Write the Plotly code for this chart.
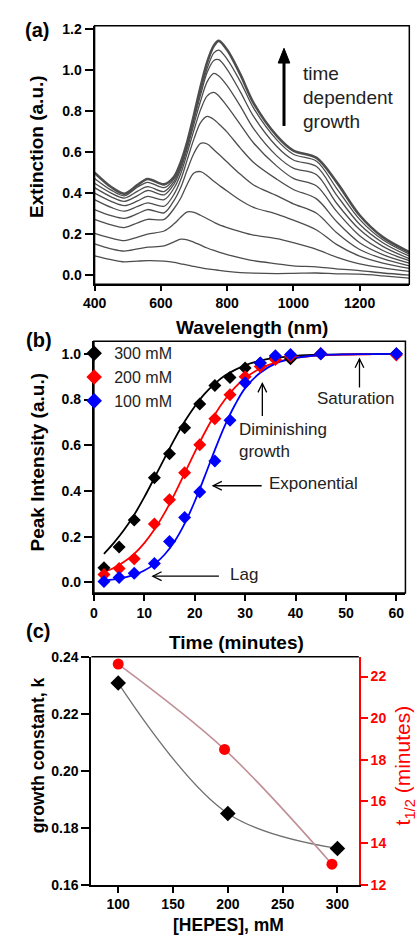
import plotly.graph_objects as go

W, H = 420, 945
def PX(px): return px / W
def PY(py): return 1 - py / H

FONT = "Liberation Sans, Arial, sans-serif"

# ---------------- Panel (a): extinction spectra ----------------
wavelength_nm = [400, 450, 490, 530, 560, 610, 640, 660, 680, 700, 720, 740, 760, 775,
                 800, 840, 880, 950, 1000, 1070, 1130, 1200, 1270, 1350]
ext_t01 = [0.094, 0.075, 0.064, 0.068, 0.070, 0.068, 0.062, 0.055, 0.048, 0.042, 0.036, 0.030,
           0.026, 0.023, 0.018, 0.012, 0.009, 0.007, 0.008, 0.010, 0.006, 0.004, -0.004, -0.015]
ext_t02 = [0.152, 0.128, 0.117, 0.128, 0.136, 0.142, 0.162, 0.175, 0.172, 0.160, 0.146, 0.132,
           0.120, 0.112, 0.100, 0.084, 0.070, 0.055, 0.045, 0.040, 0.030, 0.022, 0.010, 0.0]
ext_t03 = [0.203, 0.180, 0.168, 0.185, 0.200, 0.215, 0.250, 0.282, 0.308, 0.306, 0.292, 0.275,
           0.258, 0.246, 0.232, 0.212, 0.195, 0.178, 0.158, 0.125, 0.088, 0.055, 0.035, 0.018]
ext_t04 = [0.272, 0.245, 0.232, 0.255, 0.272, 0.272, 0.325, 0.375, 0.445, 0.498, 0.505, 0.485,
           0.458, 0.440, 0.410, 0.365, 0.330, 0.298, 0.268, 0.220, 0.150, 0.092, 0.058, 0.032]
ext_t05 = [0.320, 0.290, 0.277, 0.300, 0.320, 0.304, 0.365, 0.428, 0.515, 0.595, 0.643, 0.640,
           0.612, 0.590, 0.552, 0.492, 0.440, 0.388, 0.348, 0.302, 0.208, 0.125, 0.080, 0.045]
ext_t06 = [0.368, 0.330, 0.312, 0.335, 0.352, 0.336, 0.395, 0.465, 0.565, 0.665, 0.745, 0.775,
           0.760, 0.738, 0.698, 0.620, 0.550, 0.468, 0.418, 0.372, 0.262, 0.158, 0.100, 0.058]
ext_t07 = [0.400, 0.360, 0.339, 0.362, 0.384, 0.368, 0.425, 0.495, 0.598, 0.708, 0.808, 0.875,
           0.892, 0.875, 0.825, 0.735, 0.645, 0.532, 0.472, 0.435, 0.312, 0.192, 0.120, 0.070]
ext_t08 = [0.427, 0.382, 0.360, 0.388, 0.413, 0.392, 0.445, 0.515, 0.620, 0.738, 0.850, 0.945,
           0.985, 0.972, 0.925, 0.825, 0.715, 0.582, 0.522, 0.490, 0.352, 0.222, 0.140, 0.080]
ext_t09 = [0.448, 0.400, 0.376, 0.410, 0.432, 0.408, 0.458, 0.528, 0.632, 0.758, 0.880, 0.990,
           1.048, 1.052, 1.005, 0.895, 0.775, 0.628, 0.562, 0.530, 0.392, 0.248, 0.158, 0.092]
ext_t10 = [0.472, 0.415, 0.387, 0.430, 0.453, 0.427, 0.470, 0.540, 0.642, 0.770, 0.900, 1.010,
           1.085, 1.099, 1.055, 0.945, 0.815, 0.660, 0.590, 0.556, 0.425, 0.272, 0.172, 0.102]
ext_t11 = [0.500, 0.430, 0.397, 0.440, 0.469, 0.443, 0.480, 0.550, 0.652, 0.782, 0.920, 1.040,
           1.120, 1.144, 1.100, 0.980, 0.840, 0.680, 0.608, 0.572, 0.455, 0.292, 0.185, 0.112]
spectra = [ext_t01, ext_t02, ext_t03, ext_t04, ext_t05, ext_t06,
           ext_t07, ext_t08, ext_t09, ext_t10, ext_t11]

# ---------------- Panel (b): peak intensity vs time ----------------
time_min = [2, 5, 8, 12, 15, 18, 21, 24, 27, 30, 33, 36, 39, 45, 60]
peak_300mM = [0.064, 0.155, 0.273, 0.458, 0.563, 0.677, 0.780, 0.861, 0.897, 0.938, 0.960, 0.985, 0.978, 1.0, 1.0]
peak_200mM = [0.035, 0.061, 0.104, 0.255, 0.362, 0.480, 0.602, 0.716, 0.821, 0.900, 0.945, 0.975, 0.990, 1.0, 0.995]
peak_100mM = [0.004, 0.021, 0.040, 0.083, 0.179, 0.284, 0.395, 0.531, 0.709, 0.874, 0.960, 0.992, 0.997, 1.0, 1.0]

fit_time = [2, 4, 6, 8, 10, 12, 14, 16, 18, 20, 22, 24, 26, 28, 30, 33, 36, 40, 45, 50, 55, 60]
fit_300mM = [0.125, 0.174, 0.230, 0.296, 0.373, 0.457, 0.543, 0.627, 0.704, 0.770, 0.826, 0.870,
             0.905, 0.930, 0.950, 0.970, 0.982, 0.991, 0.996, 0.998, 0.999, 1.0]
fit_200mM = [0.045, 0.064, 0.090, 0.125, 0.172, 0.231, 0.303, 0.386, 0.477, 0.569, 0.656, 0.735,
             0.800, 0.853, 0.894, 0.936, 0.962, 0.982, 0.993, 0.997, 0.998, None]
fit_100mM = [0.008, 0.013, 0.021, 0.033, 0.052, 0.080, 0.121, 0.179, 0.257, 0.354, 0.465, 0.580,
             0.687, 0.777, 0.850, 0.917, 0.957, 0.982, 0.994, 0.998, 0.999, 1.0]

# ---------------- Panel (c): k and t1/2 vs HEPES ----------------
hepes_k = [100, 200, 300]
growth_k = [0.2308, 0.185, 0.1727]
hepes_t = [100, 197, 295]
t_half = [22.6, 18.5, 12.98]

fig = go.Figure()

# Panel (a)
for i, ys in enumerate(spectra):
    top = i == len(spectra) - 1
    fig.add_trace(go.Scatter(
        x=wavelength_nm, y=ys, mode="lines", line_shape="spline",
        line=dict(color="#4d4d4d", width=2.6 if top else 1.3, smoothing=0.9),
        xaxis="x", yaxis="y", showlegend=False, hoverinfo="skip"))

# Panel (b)
series_b = [("300 mM", "black", peak_300mM, fit_300mM),
            ("200 mM", "#ff0000", peak_200mM, fit_200mM),
            ("100 mM", "#0000ff", peak_100mM, fit_100mM)]
for name, col, pts, fit in series_b:
    fig.add_trace(go.Scatter(
        x=fit_time, y=fit, mode="lines", line_shape="spline",
        line=dict(color=col, width=1.8), xaxis="x2", yaxis="y2",
        showlegend=False, hoverinfo="skip"))
for name, col, pts, fit in series_b:
    fig.add_trace(go.Scatter(
        x=time_min, y=pts, mode="markers", name=name,
        marker=dict(symbol="diamond", size=10, color=col),
        xaxis="x2", yaxis="y2", showlegend=True))

# Panel (c)
fig.add_trace(go.Scatter(
    x=hepes_k, y=growth_k, mode="lines", line_shape="spline",
    line=dict(color="#707070", width=1.3), xaxis="x3", yaxis="y3",
    showlegend=False))
fig.add_trace(go.Scatter(
    x=hepes_t, y=t_half, mode="lines", line_shape="spline",
    line=dict(color="#c09098", width=1.6), xaxis="x3", yaxis="y4",
    showlegend=False))
fig.add_trace(go.Scatter(
    x=hepes_k, y=growth_k, mode="markers",
    marker=dict(symbol="diamond", size=12, color="black"),
    xaxis="x3", yaxis="y3", showlegend=False))
fig.add_trace(go.Scatter(
    x=hepes_t, y=t_half, mode="markers",
    marker=dict(symbol="circle", size=11, color="#ff0000"),
    xaxis="x3", yaxis="y4", showlegend=False))

tickfont = dict(family=FONT, size=14, color="black", weight="bold")
axis_common = dict(showgrid=False, zeroline=False, showline=True, linecolor="black",
                   linewidth=2, ticks="outside", tickcolor="black", tickwidth=1.5,
                   tickfont=tickfont, mirror=False)

fig.update_layout(
    width=W, height=H, margin=dict(l=0, r=0, t=0, b=0),
    paper_bgcolor="white", plot_bgcolor="white",
    font=dict(family=FONT, color="black"),
    showlegend=True,
    legend=dict(x=PX(64), y=PY(334), xanchor="left", yanchor="top",
                bgcolor="rgba(0,0,0,0)", font=dict(family=FONT, size=16, color="#222222"),
                itemsizing="constant", tracegroupgap=0),
    xaxis=dict(axis_common, domain=[PX(85), PX(409)], range=[400, 1350],
               tickvals=[400, 600, 800, 1000, 1200], ticklen=5, anchor="y"),
    yaxis=dict(axis_common, domain=[PY(281), PY(18)], range=[-0.045, 1.218],
               tickvals=[0, 0.2, 0.4, 0.6, 0.8, 1.0, 1.2], tickformat=".1f",
               ticklen=8, anchor="x"),
    xaxis2=dict(axis_common, domain=[PX(84.3), PX(405)], range=[0, 61.8],
                tickvals=[0, 10, 20, 30, 40, 50, 60], ticklen=6, anchor="y2"),
    yaxis2=dict(axis_common, domain=[PY(595), PY(339)], range=[-0.046, 1.055],
                tickvals=[0, 0.2, 0.4, 0.6, 0.8, 1.0], tickformat=".1f",
                ticklen=8, anchor="x2"),
    xaxis3=dict(axis_common, domain=[PX(81.7), PX(357)], range=[75.5, 319.5],
                tickvals=[100, 150, 200, 250, 300], ticklen=6, anchor="y3"),
    yaxis3=dict(axis_common, domain=[PY(891.7), PY(660)], range=[0.16, 0.24],
                tickvals=[0.16, 0.18, 0.20, 0.22, 0.24], tickformat=".2f",
                ticklen=8, anchor="x3"),
    yaxis4=dict(axis_common, overlaying="y3", side="right", anchor="x3",
                range=[12, 22.95], tickvals=[12, 14, 16, 18, 20, 22],
                linecolor="#ff0000", tickcolor="#ff0000", ticklen=7,
                tickfont=dict(family=FONT, size=14, color="#ff0000", weight="bold")),
)

# frame lines (top / right) for panels
shapes = []
for xr, yr in [("x", "y"), ("x2", "y2")]:
    shapes.append(dict(type="rect", xref=f"{xr} domain", yref=f"{yr} domain",
                       x0=0, x1=1, y0=0, y1=1, line=dict(color="black", width=1.5)))
shapes.append(dict(type="line", xref="x3 domain", yref="y3 domain", x0=0, x1=1, y0=1, y1=1,
                   line=dict(color="black", width=1.5)))

def seg(x0, y0, x1, y1, width=1.3, color="black"):
    shapes.append(dict(type="line", xref="paper", yref="paper",
                       x0=PX(x0), y0=PY(y0), x1=PX(x1), y1=PY(y1),
                       line=dict(color=color, width=width)))

def path(points, closed=False, fill=None, width=1.3, color="black"):
    d = "M " + " L ".join(f"{PX(a):.5f},{PY(b):.5f}" for a, b in points)
    if closed:
        d += " Z"
    shapes.append(dict(type="path", xref="paper", yref="paper", path=d,
                       line=dict(color=color, width=width),
                       fillcolor=fill if fill else "rgba(0,0,0,0)"))

def up_arrow(x, y_tip, y_tail):
    seg(x, y_tip, x, y_tail)
    path([(x - 4.5, y_tip + 9), (x, y_tip), (x + 4.5, y_tip + 9)])

def left_arrow(x_tip, x_tail, y):
    seg(x_tip, y, x_tail, y)
    path([(x_tip + 9, y - 4.5), (x_tip, y), (x_tip + 9, y + 4.5)])

# panel (a) bold arrow
seg(280, 55, 280, 120, width=3)
path([(274, 56), (280, 41), (286, 56)], closed=True, fill="black", width=1)

# panel (b) arrows
up_arrow(257.7, 382, 415)
up_arrow(357.7, 357, 386)
left_arrow(207, 257, 486)
left_arrow(145, 213, 578)

fig.update_layout(shapes=shapes)

ann = []
def text(px, py, s, size, bold=False, color="black", xanchor="left", angle=0, yanchor="middle"):
    ann.append(dict(x=PX(px), y=PY(py), xref="paper", yref="paper", showarrow=False,
                    text=f"<b>{s}</b>" if bold else s, textangle=angle,
                    xanchor=xanchor, yanchor=yanchor,
                    font=dict(family=FONT, size=size, color=color)))

# panel labels
text(11, 22, "(a)", 20, bold=True)
text(12, 338, "(b)", 20, bold=True)
text(12, 634, "(c)", 20, bold=True)

# axis titles
text(25, 141, "Extinction (a.u.)", 19, bold=True, xanchor="center", angle=-90)
text(247, 325, "Wavelength (nm)", 19, bold=True, xanchor="center")
text(26, 462, "Peak Intensity (a.u.)", 19, bold=True, xanchor="center", angle=-90)
text(231, 645, "Time (minutes)", 19, bold=True, xanchor="center")
text(27, 760, "growth constant, k", 17.5, bold=True, xanchor="center", angle=-90)
text(404, 770, "t<sub>1/2</sub> (minutes)", 21, color="#ff0000", xanchor="center", angle=-90)
text(223, 933, "[HEPES], mM", 17.5, bold=True, xanchor="center")

# panel (a) annotation text
text(297, 67, "time", 19, color="#222222")
text(297, 91, "dependent", 19, color="#222222")
text(297, 115, "growth", 19, color="#222222")

# panel (b) annotation texts
text(231.5, 429, "Diminishing", 17, color="#222222")
text(231.5, 451, "growth", 17, color="#222222")
text(311.5, 397, "Saturation", 17, color="#222222")
text(263, 484, "Exponential", 17, color="#222222")
text(222.5, 576, "Lag", 17, color="#222222")

fig.update_layout(annotations=ann)
fig.write_html("out.html")
